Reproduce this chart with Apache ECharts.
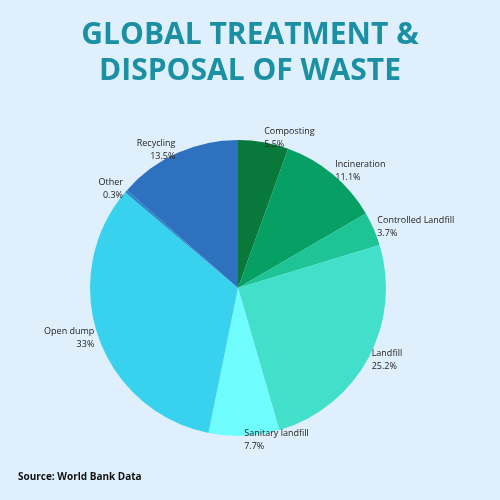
<!DOCTYPE html><html><head><meta charset="utf-8">
<script src="https://cdn.jsdelivr.net/npm/echarts@6/dist/echarts.min.js"></script>
<style>body{margin:0;background:#dff0fc}#c{width:500px;height:500px}</style></head><body><div id="c"></div>
<script>
const categories=["Composting","Incineration","Controlled Landfill","Landfill","Sanitary landfill","Open dump","Other","Recycling"];
const values=[5.5,11.1,3.7,25.2,7.7,33,0.3,13.5];
const colors=["#08793a","#07a064","#1fc496","#42e0ca","#6ffcfc","#38d2ef","#2a86c8","#2e72bf"];
const chart=echarts.init(document.getElementById('c'));
chart.setOption({
backgroundColor:'#dff0fc',
title:{text:'GLOBAL TREATMENT &\nDISPOSAL OF WASTE',left:'center',top:12,textStyle:{color:'#1b90a3',fontSize:30,fontWeight:'bold',fontFamily:'Open Sans',lineHeight:36}},
graphic:[{type:'text',left:18,top:472,style:{text:'Source: World Bank Data',font:'bold 10px "Open Sans"',fill:'#111'}}],
series:[{type:'pie',center:[238,288],radius:148,startAngle:90,clockwise:true,
data:categories.map((n,i)=>({name:n,value:values[i],itemStyle:{color:colors[i]}})),
label:{formatter:'{b}\n{c}%',fontSize:9,color:'#222',fontFamily:'Open Sans',lineHeight:13,distanceToLabelLine:0},
labelLine:{show:false,length:4,length2:0},emphasis:{disabled:true}}]
});
</script></body></html>
